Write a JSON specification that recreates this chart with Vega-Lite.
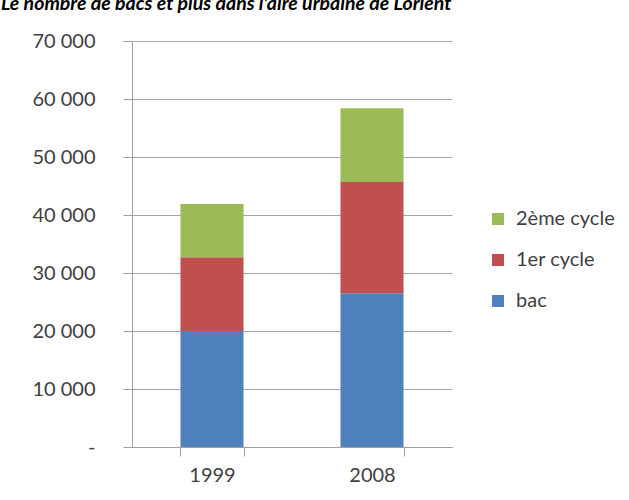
{
  "$schema": "https://vega.github.io/schema/vega-lite/v6.json",
  "autosize": {"type": "none"},
  "padding": {"left": 132, "top": 41, "right": 177, "bottom": 53},
  "width": 320,
  "height": 406,
  "background": "white",
  "title": {
    "text": "Le nombre de bacs et plus dans l'aire urbaine de Lorient",
    "anchor": "start",
    "frame": "group",
    "dx": -131,
    "dy": 26,
    "baseline": "alphabetic",
    "offset": 28,
    "font": "Lato",
    "fontSize": 19.5,
    "fontWeight": "bold",
    "fontStyle": "italic",
    "color": "#000000"
  },
  "data": {
    "values": [
      {"annee": "1999", "niveau": "bac", "ordre": 1, "effectif": 20000},
      {"annee": "1999", "niveau": "1er cycle", "ordre": 2, "effectif": 12700},
      {"annee": "1999", "niveau": "2ème cycle", "ordre": 3, "effectif": 9200},
      {"annee": "2008", "niveau": "bac", "ordre": 1, "effectif": 26500},
      {"annee": "2008", "niveau": "1er cycle", "ordre": 2, "effectif": 19200},
      {"annee": "2008", "niveau": "2ème cycle", "ordre": 3, "effectif": 12700}
    ]
  },
  "mark": {"type": "bar"},
  "encoding": {
    "x": {
      "field": "annee",
      "type": "nominal",
      "scale": {"paddingInner": 0.606, "paddingOuter": 0.303},
      "axis": {
        "title": null,
        "labelAngle": 0,
        "labelFont": "Lato",
        "labelFontSize": 20,
        "labelColor": "#404040",
        "labelPadding": 9,
        "tickBand": "extent",
        "tickSize": 9,
        "tickColor": "#a0a0a0",
        "domainColor": "#a0a0a0"
      }
    },
    "y": {
      "field": "effectif",
      "type": "quantitative",
      "stack": "zero",
      "scale": {"domain": [0, 70000], "nice": false},
      "axis": {
        "title": null,
        "values": [0, 10000, 20000, 30000, 40000, 50000, 60000, 70000],
        "labelExpr": "datum.value == 0 ? '-   ' : replace(format(datum.value, ','), ',', ' ')",
        "labelFont": "Lato",
        "labelFontSize": 20,
        "labelColor": "#404040",
        "labelPadding": 28,
        "tickSize": 9,
        "tickColor": "#a0a0a0",
        "domainColor": "#a0a0a0",
        "gridColor": "#a6a6a6",
        "gridWidth": 1
      }
    },
    "color": {
      "field": "niveau",
      "type": "nominal",
      "sort": ["2ème cycle", "1er cycle", "bac"],
      "scale": {
        "domain": ["2ème cycle", "1er cycle", "bac"],
        "range": ["#9bbb59", "#c0504d", "#4f81bd"]
      },
      "legend": {
        "title": null,
        "orient": "none",
        "legendX": 356,
        "legendY": 168,
        "padding": 0,
        "symbolType": "square",
        "symbolSize": 144,
        "symbolStrokeWidth": 0,
        "labelFont": "Lato",
        "labelFontSize": 20,
        "labelColor": "#404040",
        "rowPadding": 21,
        "labelOffset": 8
      }
    },
    "order": {"field": "ordre", "type": "quantitative"}
  },
  "config": {
    "view": {"stroke": null}
  }
}
